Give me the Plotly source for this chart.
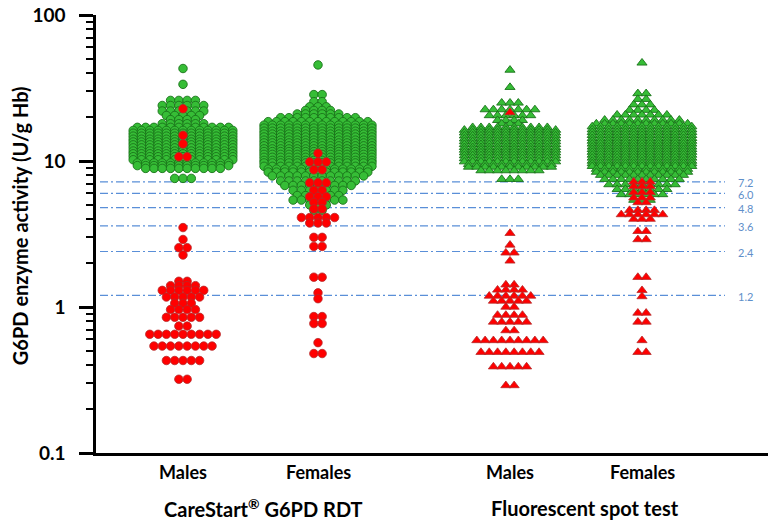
import math
import plotly.graph_objects as go

# ---------------- data ----------------
# Each group: value levels (U/g Hb) and number of subjects at that level
rdt_m_normal_vals = [43.0, 33.5, 26.0, 24.0, 22.0, 20.5, 19.2, 18.0,
                     17.0, 16.2, 15.5, 14.8, 14.1, 13.5, 12.9, 12.3, 11.7, 11.2,
                     10.7, 10.2, 9.7, 9.3, 8.9, 7.6]
rdt_m_normal_cnts = [1, 1, 4, 6, 6, 5, 4, 6,
                     12, 13, 13, 13, 13, 13, 13, 13, 13, 13,
                     13, 13, 12, 12, 10, 3]
rdt_m_def_vals = [22.8, 15.0, 13.1, 10.7, 3.5, 2.9, 2.55, 2.27,
                  1.5, 1.4, 1.3, 1.17, 1.06, 0.96, 0.85, 0.74, 0.65, 0.54, 0.43, 0.32]
rdt_m_def_cnts = [1, 1, 1, 2, 1, 1, 2, 1,
                  2, 4, 6, 5, 3, 4, 5, 2, 9, 8, 5, 2]

rdt_f_normal_vals = [45.5, 28.5, 25.5, 23.5, 22.2, 21.0, 19.8, 18.6,
                     17.6, 16.8, 16.0, 15.3, 14.6, 13.9, 13.3, 12.7, 12.1, 11.6,
                     11.1, 10.6, 10.1, 9.7, 9.2, 8.8, 8.4,
                     7.9, 7.3, 6.8, 6.3, 5.8, 5.4, 5.0, 4.6]
rdt_f_normal_cnts = [1, 2, 2, 3, 4, 6, 10, 13,
                     14, 14, 14, 14, 14, 14, 14, 14, 14, 14,
                     14, 14, 14, 14, 14, 13, 13,
                     12, 10, 9, 7, 6, 7, 3, 2]
rdt_f_def_vals = [11.3, 9.85, 8.7, 7.1, 6.3, 5.7, 5.2, 4.7, 4.1, 3.76,
                  3.0, 2.6, 1.6, 1.25, 1.14, 0.86, 0.77, 0.57, 0.48]
rdt_f_def_cnts = [1, 3, 2, 3, 2, 3, 2, 2, 5, 3,
                  2, 2, 2, 1, 1, 2, 2, 1, 2]

fst_m_normal_vals = [42.0, 32.0, 25.0, 22.5, 20.5, 19.0, 18.0,
                     17.0, 16.3, 15.6, 14.9, 14.2, 13.6, 13.0, 12.4, 11.9, 11.4,
                     10.9, 10.4, 9.9, 9.5, 9.1, 8.6, 7.5]
fst_m_normal_cnts = [1, 1, 3, 7, 6, 4, 3,
                     10, 12, 12, 12, 12, 12, 12, 12, 12, 12,
                     12, 12, 12, 11, 11, 8, 3]
fst_m_def_vals = [21.5, 3.2, 2.66, 2.35, 2.07, 1.42, 1.31, 1.19, 1.1, 1.0,
                  0.88, 0.79, 0.69, 0.59, 0.49, 0.39, 0.29]
fst_m_def_cnts = [1, 1, 1, 2, 1, 2, 4, 6, 5, 2,
                  4, 5, 2, 9, 8, 5, 2]

fst_f_normal_vals = [47.0, 29.0, 26.5, 24.3, 22.3, 20.7, 19.1, 18.0,
                     17.2, 16.4, 15.7, 15.0, 14.3, 13.7, 13.1, 12.5, 12.0, 11.5,
                     11.0, 10.5, 10.0, 9.6, 9.2, 8.8, 8.4, 8.0,
                     7.5, 6.9, 6.4, 5.9, 5.4]
fst_f_normal_cnts = [1, 2, 2, 3, 4, 7, 10, 12,
                     13, 13, 13, 13, 13, 13, 13, 13, 13, 13,
                     13, 13, 13, 13, 13, 12, 12, 11,
                     10, 9, 7, 6, 3]
fst_f_def_vals = [7.2, 6.7, 6.1, 5.6, 5.2, 4.6, 4.3, 4.0, 3.3, 2.9,
                  1.6, 1.3, 1.18, 0.91, 0.79, 0.59, 0.49]
fst_f_def_cnts = [3, 3, 3, 3, 2, 4, 6, 3, 2, 2,
                  2, 1, 1, 2, 2, 1, 2]

cutoffs = [7.2, 6.0, 4.8, 3.6, 2.4, 1.2]
cutoff_labels = ["7.2", "6.0", "4.8", "3.6", "2.4", "1.2"]

sex_labels = ["Males", "Females", "Males", "Females"]
test_labels = ["CareStart<sup>®</sup> G6PD RDT", "Fluorescent spot test"]

# ---------------- layout constants ----------------
centers = [87, 222, 414, 546]          # x positions of the four columns (x axis units = px)
test_centers = [167, 489]
STEP = 8.3                             # horizontal spacing between dots in a row
GREEN = "#36bd36"
GREEN_LINE = "#1a731a"
RED = "#ff0000"
RED_LINE = "#b52a2a"
CUT_COLOR = "#5a8fd8"
LABEL_COLOR = "#5f8fca"
FONT = "Lato, 'Open Sans', sans-serif"


def rows(vals, cnts, center):
    xs, ys = [], []
    for v, n in zip(vals, cnts):
        for i in range(n):
            xs.append(center + (i - (n - 1) / 2) * STEP)
            ys.append(v)
    return xs, ys


groups = [
    (rdt_m_normal_vals, rdt_m_normal_cnts, rdt_m_def_vals, rdt_m_def_cnts, centers[0], "circle", 8.5),
    (rdt_f_normal_vals, rdt_f_normal_cnts, rdt_f_def_vals, rdt_f_def_cnts, centers[1], "circle", 8.5),
    (fst_m_normal_vals, fst_m_normal_cnts, fst_m_def_vals, fst_m_def_cnts, centers[2], "triangle-up", 8.8),
    (fst_f_normal_vals, fst_f_normal_cnts, fst_f_def_vals, fst_f_def_cnts, centers[3], "triangle-up", 8.8),
]

fig = go.Figure()
for nv, nc, dv, dc, cx, sym, sz in groups:
    gx, gy = rows(nv, nc, cx)
    fig.add_trace(go.Scatter(x=gx, y=gy, mode="markers", showlegend=False, hoverinfo="y",
                             marker=dict(symbol=sym, size=sz, color=GREEN,
                                         line=dict(color=GREEN_LINE, width=0.9))))
for nv, nc, dv, dc, cx, sym, sz in groups:
    rx, ry = rows(dv, dc, cx)
    fig.add_trace(go.Scatter(x=rx, y=ry, mode="markers", showlegend=False, hoverinfo="y",
                             marker=dict(symbol=sym, size=sz, color=RED,
                                         line=dict(color=RED_LINE, width=0.8))))

# cut-off lines
for c, lab in zip(cutoffs, cutoff_labels):
    fig.add_shape(type="line", xref="x", yref="y", x0=4, x1=629, y0=c, y1=c,
                  line=dict(color=CUT_COLOR, width=1.2, dash="8px,3px,2px,3px"), layer="below")
    fig.add_annotation(x=640, y=math.log10(c), xref="x", yref="y", text=lab, showarrow=False,
                       xanchor="left", yanchor="middle", yshift=-1,
                       font=dict(family=FONT, size=11, color=LABEL_COLOR))

# category labels
for cx, lab in zip(centers, sex_labels):
    fig.add_annotation(x=cx, y=-0.043, xref="x", yref="paper", text=f"<b>{lab}</b>",
                       showarrow=False, xanchor="center", yanchor="middle",
                       font=dict(family=FONT, size=18, color="black"))
for cx, lab in zip(test_centers, test_labels):
    fig.add_annotation(x=cx, y=-0.125, xref="x", yref="paper", text=f"<b>{lab}</b>",
                       showarrow=False, xanchor="center", yanchor="middle",
                       font=dict(family=FONT, size=20, color="black"))

# y-axis title
fig.add_annotation(x=-0.113, y=0.518, xref="paper", yref="paper",
                   text="<b>G6PD enzyme activity (U/g Hb)</b>", textangle=-90,
                   showarrow=False, xanchor="center", yanchor="middle",
                   font=dict(family=FONT, size=20, color="black"))

fig.update_layout(
    width=768, height=525,
    margin=dict(l=96, r=0, t=15, b=72, autoexpand=False),
    paper_bgcolor="white", plot_bgcolor="white",
    showlegend=False,
    xaxis=dict(range=[0, 672], showgrid=False, zeroline=False, showticklabels=False,
               ticks="", showline=True, linecolor="black", linewidth=2.5, fixedrange=True,
               automargin=False),
    yaxis=dict(type="log", range=[-1, 2], showgrid=False, zeroline=False,
               showline=True, linecolor="black", linewidth=2.5, automargin=False,
               ticks="outside", ticklen=14, tickwidth=2.5, tickcolor="black",
               tickvals=[0.1, 1, 10, 100], ticktext=["<b>0.1</b>", "<b>1</b>", "<b>10</b>", "<b>100</b>"],
               tickfont=dict(family=FONT, size=19, color="black"),
               ticklabelstandoff=10,
               minor=dict(ticks="outside", ticklen=7, tickwidth=1.5, tickcolor="black",
                          dtick="D1", showgrid=False)),
)

fig.write_html("out.html", config={"displayModeBar": False},
               post_script="document.body.style.margin='0';document.body.style.overflow='hidden';")
